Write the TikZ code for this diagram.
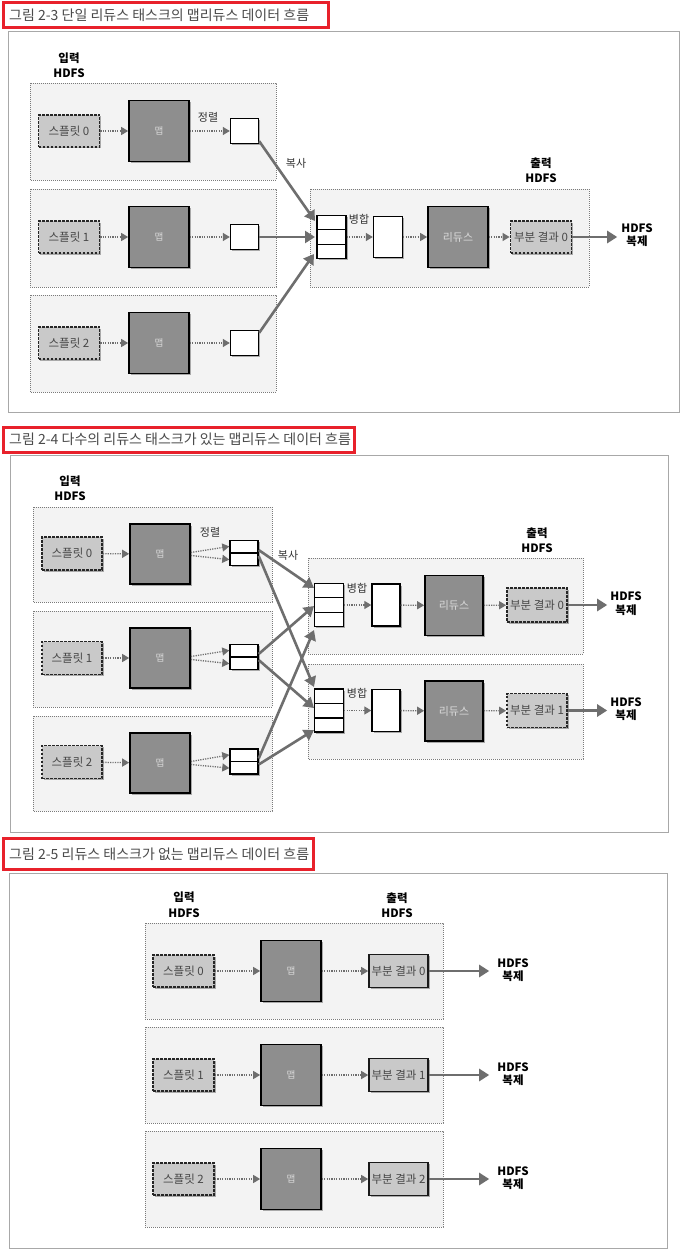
\documentclass[tikz,border=0pt]{standalone}
\usepackage{fontspec}
\setmainfont{Noto Sans CJK KR}
\usetikzlibrary{arrows.meta,shadows,calc}
\definecolor{grpfill}{HTML}{F3F3F3}
\definecolor{grpline}{HTML}{7A7A7A}
\definecolor{splitfill}{HTML}{C9C9C9}
\definecolor{mapfill}{HTML}{8E8E8E}
\definecolor{arrowgray}{HTML}{6E6E6E}
\definecolor{titlered}{HTML}{E8212B}
\definecolor{titlegray}{HTML}{4A4A4A}
\definecolor{framegray}{HTML}{A8A8A8}
\newcommand\mkstack[3]{%
  \node[wbox, minimum width=29, minimum height=43] (#1) at (#2,#3) {};
  \draw[line width=1.2pt] ($(#1.north west)!1/3!(#1.south west)$) -- ($(#1.north east)!1/3!(#1.south east)$);
  \draw[line width=1.2pt] ($(#1.north west)!2/3!(#1.south west)$) -- ($(#1.north east)!2/3!(#1.south east)$);
}
\newcommand\mktwo[3]{%
  \node[wbox] (#1) at (#2,#3) {};
  \draw[line width=1.2pt] (#1.west) -- (#1.east);
}
\begin{document}
\begin{tikzpicture}[x=1pt,y=-1pt,
  myshadow/.style={drop shadow={shadow xshift=1.5pt, shadow yshift=-1.5pt, opacity=0.3, fill=black}},
  titlebox/.style={draw=titlered, line width=3pt},
  ttext/.style={anchor=west, text=titlegray, font=\fontsize{14}{16}\selectfont, inner sep=0},
  frame/.style={draw=framegray, line width=1pt},
  grp/.style={draw=grpline, fill=grpfill, line width=0.8pt, dash pattern=on 0.8pt off 1.2pt},
  split/.style={draw=black!85, fill=splitfill, line width=1.8pt, dash pattern=on 2.6pt off 1.4pt,
     minimum width=61, minimum height=32, inner sep=0, text=black!72, font=\fontsize{11.5}{12}\selectfont, myshadow},
  part/.style={split},
  partsolid/.style={draw=black!90, fill=splitfill, line width=1.6pt,
     minimum width=59, minimum height=33, inner sep=0, text=black!72, font=\fontsize{11.5}{12}\selectfont, myshadow},
  mapbox/.style={draw=black, fill=mapfill, line width=1.7pt, minimum width=60, minimum height=61,
     inner sep=0, text=black!15, font=\fontsize{9.5}{10}\selectfont, myshadow},
  redbox/.style={mapbox, font=\fontsize{11}{12}\selectfont},
  wbox/.style={draw=black, fill=white, line width=1.4pt, minimum width=28, minimum height=25, inner sep=0, myshadow},
  darr/.style={draw=arrowgray, line width=1.3pt, dash pattern=on 1.2pt off 1.2pt, -{Triangle[length=7pt,width=8pt]}},
  tarr/.style={draw=arrowgray, line width=2.6pt, -{Triangle[length=10pt,width=12pt]}},
  lbl/.style={font=\fontsize{11}{12}\selectfont, text=black!80, inner sep=0},
  hdfs/.style={font=\bfseries\fontsize{11.5}{15.5}\selectfont, align=center, inner sep=0},
  hdfsr/.style={font=\bfseries\fontsize{11.5}{13.5}\selectfont, align=center, inner sep=0},
]
\useasboundingbox (0,0) rectangle (688,1260);
\fill[white] (0,0) rectangle (688,1260);

%% ================= Figure 2-3 =================
\draw[titlebox] (3,3) rectangle (328,28);
\node[ttext] (t1) at (9,15.5) {그림 2-3 단일 리듀스 태스크의 맵리듀스 데이터 흐름};
\draw[frame] (8,32) rectangle (679,412);
\node[hdfs] (in1) at (69,65) {입력\\HDFS};
\node[hdfs] (out1) at (541,170) {출력\\HDFS};
\draw[grp] (30,83) rectangle (276,180);
\draw[grp] (30,189) rectangle (276,287);
\draw[grp] (30,295) rectangle (276,392);
\draw[grp] (310,189) rectangle (589,287);

\foreach \i/\y in {0/131,1/237,2/343}{
  \node[split] (aS\i) at (69,\y) {스플릿 \i};
  \node[mapbox] (aM\i) at (159,\y) {맵};
  \node[wbox] (aB\i) at (244.5,\y) {};
  \draw[darr] (aS\i) -- (aM\i);
  \draw[darr] (aM\i) -- (aB\i);
}
\node[lbl] (sort1) at (208,117) {정렬};
\node[lbl] (copy1) at (296,163) {복사};
\mkstack{aK}{331.5}{237}
\node[lbl] (merge1) at (359,219) {병합};
\node[wbox, minimum width=29, minimum height=41] (aW) at (388,237) {};
\node[redbox] (aR) at (458,237) {리듀스};
\node[part] (aP) at (541,237) {부분 결과 0};
\node[hdfsr] (aH) at (637,235) {HDFS\\복제};
\draw[darr] (aK) -- (aW);
\draw[darr] (aW) -- (aR);
\draw[darr] (aR) -- (aP);
\draw[tarr, shorten >=4pt] (aP) -- (aP -| aH.west);
\coordinate (aK1) at (315,221);
\coordinate (aK2) at (315,237);
\coordinate (aK3) at (314,254);
\draw[tarr] ($(aB0.south east)+(0,-3)$) -- (aK1);
\draw[tarr] (aB1.east) -- (aK2);
\draw[tarr] ($(aB2.north east)+(0,3)$) -- (aK3);

%% ================= Figure 2-4 =================
\draw[titlebox] (3,427) rectangle (354,452);
\node[ttext] (t2) at (9,439.5) {그림 2-4 다수의 리듀스 태스크가 있는 맵리듀스 데이터 흐름};
\draw[frame] (10,455) rectangle (668,832);
\node[hdfs] (in2) at (70,488) {입력\\HDFS};
\node[hdfs] (out2) at (537,540) {출력\\HDFS};
\draw[grp] (33,507) rectangle (272,602);
\draw[grp] (33,611) rectangle (272,707);
\draw[grp] (33,716) rectangle (272,811);
\draw[grp] (308,558) rectangle (583,654);
\draw[grp] (308,664) rectangle (583,759);

\foreach \i/\y/\ym/\yb in {0/553.5/554/553,1/658/658/657,2/762/763/761.5}{
  \node[split, minimum width=60, minimum height=33] (bS\i) at (72,\y) {스플릿 \i};
  \node[mapbox, minimum height=60] (bM\i) at (160,\ym) {맵};
  \mktwo{bB\i}{244}{\yb}
  \draw[darr] (bS\i) -- (bM\i);
  \draw[darr] ($(bM\i.east)+(0,-1.5)$) -- ($(bB\i.west)!0.5!(bB\i.north west)$);
  \draw[darr] ($(bM\i.east)+(0,1.5)$) -- ($(bB\i.west)!0.5!(bB\i.south west)$);
}
\node[lbl] (sort2) at (210,532) {정렬};
\node[lbl] (copy2) at (288,555) {복사};

\foreach \j/\y in {0/605,1/710.5}{
  \mkstack{bK\j}{329}{\y}
  \node[lbl] (merge2\j) at (357,\y-17) {병합};
  \node[wbox, minimum width=28, minimum height=42] (bW\j) at (386,\y) {};
  \node[redbox, minimum width=58, minimum height=60] (bR\j) at (454,\y+0.5) {리듀스};
  \node[part, minimum width=60, minimum height=34] (bP\j) at (537,\y) {부분 결과 \j};
  \node[hdfsr] (bH\j) at (626,\y-1.5) {HDFS\\복제};
  \draw[darr] (bK\j) -- (bW\j);
  \draw[darr] (bW\j) -- (bR\j);
  \draw[darr] (bR\j) -- (bP\j);
  \draw[tarr, shorten >=3pt] (bP\j) -- (bP\j -| bH\j.west);
}
\coordinate (k00) at (314,588);
\coordinate (k01) at (314,606);
\coordinate (k02) at (314,630);
\coordinate (k10) at (314,687);
\coordinate (k11) at (314,708);
\coordinate (k12) at (314,730);
\draw[tarr] ($(bB0.east)+(0,-3)$) -- (k00);
\draw[tarr] ($(bB0.east)+(0,3)$) -- (k10);
\draw[tarr] ($(bB1.east)+(0,-3)$) -- (k01);
\draw[tarr] ($(bB1.east)+(0,3)$) -- (k11);
\draw[tarr] ($(bB2.east)+(0,-3)$) -- (k02);
\draw[tarr] ($(bB2.east)+(0,3)$) -- (k12);

%% ================= Figure 2-5 =================
\draw[titlebox] (3,838) rectangle (313,869);
\node[ttext] (t3) at (9,854) {그림 2-5 리듀스 태스크가 없는 맵리듀스 데이터 흐름};
\draw[frame] (9,873) rectangle (667,1248);
\node[hdfs] (in3) at (184,904.5) {입력\\HDFS};
\node[hdfs] (out3) at (397,905) {출력\\HDFS};
\draw[grp] (145,923) rectangle (443,1019);
\draw[grp] (145,1027) rectangle (443,1123);
\draw[grp] (145,1131) rectangle (443,1227);
\foreach \i/\y in {0/971,1/1075,2/1179}{
  \node[split] (cS\i) at (183.5,\y) {스플릿 \i};
  \node[mapbox] (cM\i) at (291,\y) {맵};
  \node[partsolid] (cP\i) at (398.5,\y) {부분 결과 \i};
  \node[hdfsr] (cH\i) at (513,\y-1) {HDFS\\복제};
  \draw[darr] (cS\i) -- (cM\i);
  \draw[darr] (cM\i) -- (cP\i);
  \draw[tarr, shorten >=8pt] (cP\i) -- (cP\i -| cH\i.west);
}
\end{tikzpicture}
\end{document}
